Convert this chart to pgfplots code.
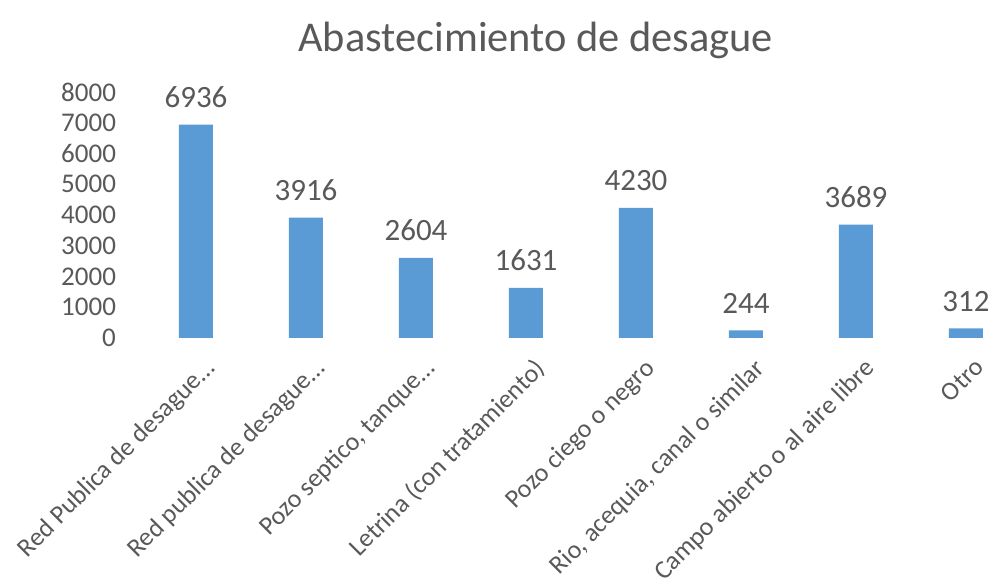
\documentclass[border=0pt]{standalone}
\usepackage{pgfplots}
\pgfplotsset{compat=1.18}
\usepackage{fontspec}
\setmainfont{Carlito}
\definecolor{barblue}{HTML}{5B9BD5}
\definecolor{txtgray}{HTML}{595959}
\begin{document}
\begin{tikzpicture}
\begin{axis}[
  at={(0pt,0pt)}, anchor=south west,
  scale only axis,
  width=423.5pt, height=123pt,
  xmin=-0.5, xmax=7.2,
  ymin=0, ymax=8000,
  ytick={0,1000,2000,3000,4000,5000,6000,7000,8000},
  xtick={0,1,2,3,4,5,6,7},
  xticklabels={{Red Publica de desague\ldots},{Red publica de desague\ldots},{Pozo septico, tanque\ldots},{Letrina (con tratamiento)},{Pozo ciego o negro},{Rio, acequia, canal o similar},{Campo abierto o al aire libre},{Otro}},
  axis line style={draw=none},
  major tick length=0pt,
  clip=false,
  /pgf/number format/assume math mode=true,
  /pgf/number format/1000 sep={},
  yticklabel style={font=\fontsize{13.5}{16}\selectfont, text=txtgray, xshift=-9pt},
  xticklabel style={font=\fontsize{13}{15}\selectfont, text=txtgray, rotate=45, anchor=north east, xshift=-3pt, yshift=-8pt, inner sep=1pt},
  title={Abastecimiento de desague},
  title style={font=\fontsize{21.2}{25}\selectfont, text=txtgray, at={(axis description cs:0.466,1.16)}, anchor=center},
  nodes near coords,
  nodes near coords style={font=\fontsize{15.5}{18}\selectfont, text=txtgray, anchor=south, yshift=5pt, /pgf/number format/assume math mode=true, /pgf/number format/1000 sep={}},
]
\addplot[ybar, bar width=17pt, fill=barblue, draw=none] coordinates {
  (0,6936) (1,3916) (2,2604) (3,1631) (4,4230) (5,244) (6,3689) (7,312)
};
\end{axis}
\pgfresetboundingbox
\path[use as bounding box] (-70.5pt,-124.5pt) rectangle (423.5pt,169pt);
\end{tikzpicture}
\end{document}
